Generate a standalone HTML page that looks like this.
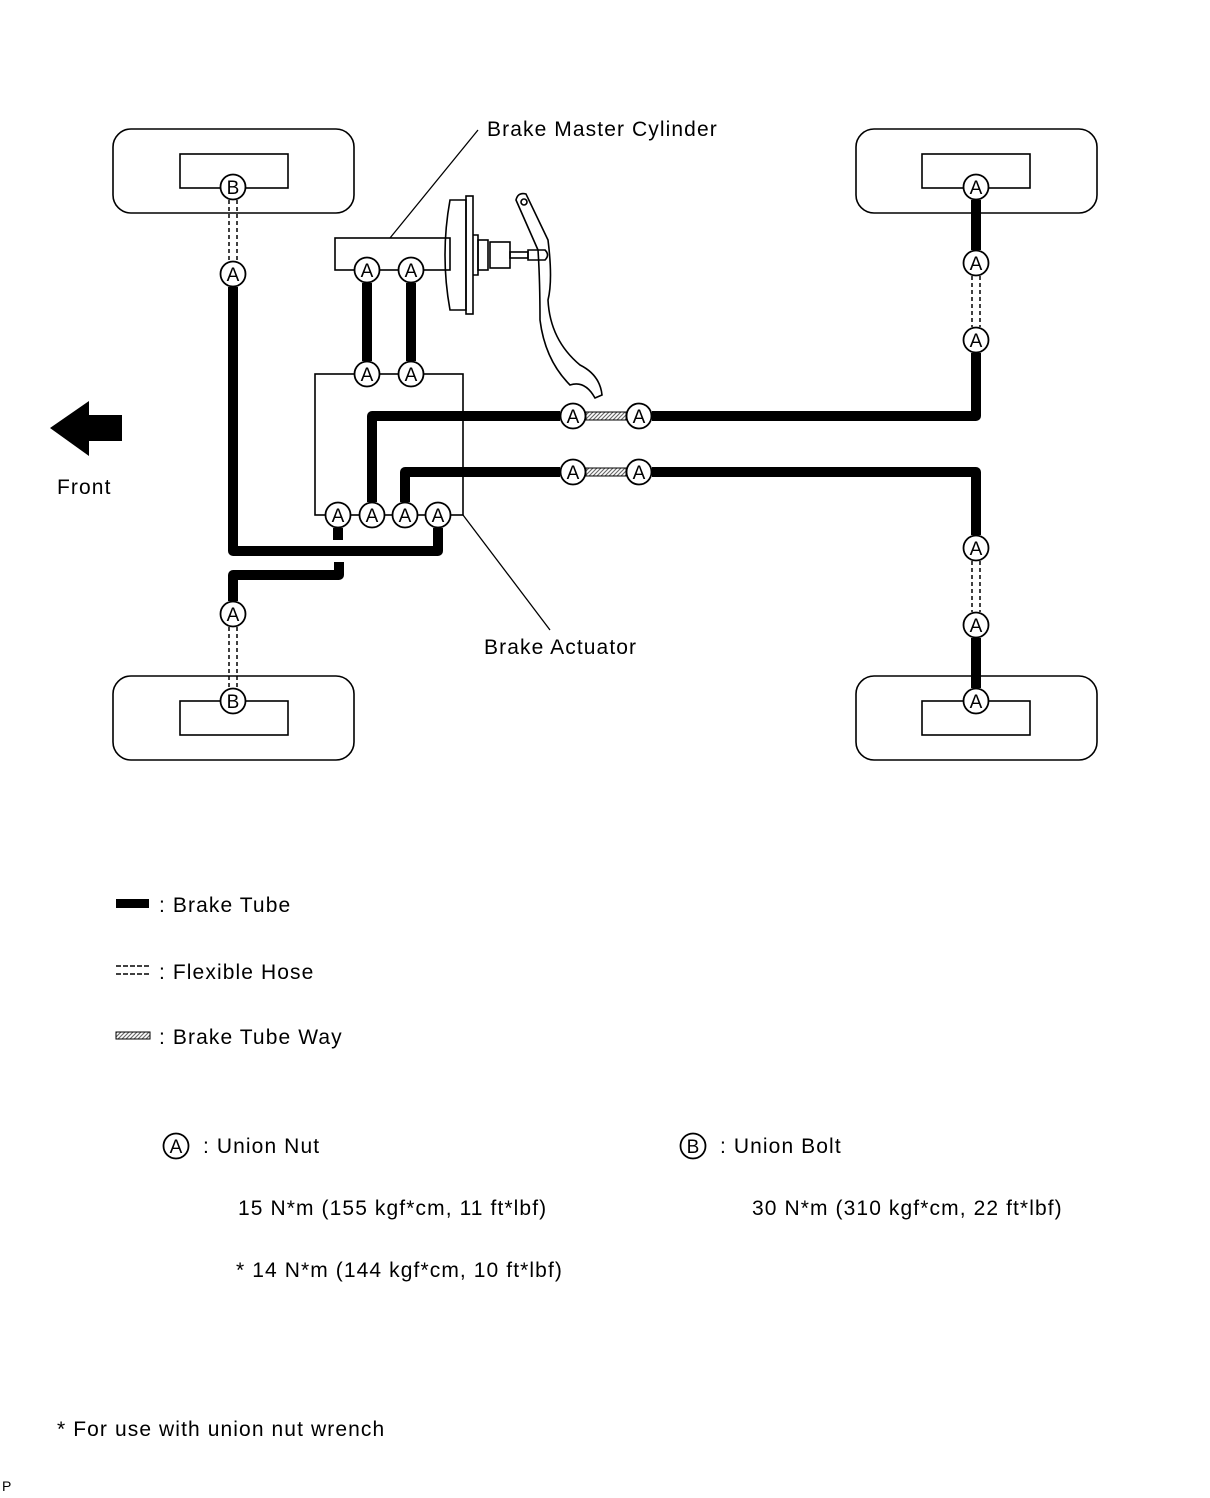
<!DOCTYPE html>
<html><head><meta charset="utf-8"><style>
html,body{margin:0;padding:0;background:#fff}
svg{display:block}
text{font-family:"Liberation Sans",Arial,sans-serif;fill:#000}
.c{fill:#fff;stroke:#000;stroke-width:1.8}
.ct{font-size:19px;text-anchor:middle}
.t{fill:none;stroke:#000;stroke-width:10;stroke-linejoin:round}
.h{stroke:#000;stroke-width:1.5;stroke-dasharray:4 3}
.o{fill:none;stroke:#000;stroke-width:1.6}
.lb{font-size:21px;letter-spacing:1.1px}
</style></head><body>
<svg width="1210" height="1498" viewBox="0 0 1210 1498" xmlns="http://www.w3.org/2000/svg">
<defs>
<pattern id="hp" width="4" height="8" patternUnits="userSpaceOnUse" patternTransform="skewX(-45)">
<rect width="4" height="8" fill="#fff"/><line x1="1" y1="0" x2="1" y2="8" stroke="#555" stroke-width="1.4"/>
</pattern>
</defs>
<!-- wheels -->
<rect x="113" y="129" width="241" height="84" rx="18" class="o"/>
<rect x="180" y="154" width="108" height="34" class="o"/>
<rect x="856" y="129" width="241" height="84" rx="18" class="o"/>
<rect x="922" y="154" width="108" height="34" class="o"/>
<rect x="113" y="676" width="241" height="84" rx="18" class="o"/>
<rect x="180" y="701" width="108" height="34" class="o"/>
<rect x="856" y="676" width="241" height="84" rx="18" class="o"/>
<rect x="922" y="701" width="108" height="34" class="o"/>

<!-- actuator box -->
<rect x="315" y="374" width="148" height="141" class="o"/>
<line x1="463" y1="515" x2="550" y2="630" stroke="#000" stroke-width="1.3"/>
<!-- master cylinder -->
<rect x="335" y="238" width="115" height="32" class="o"/>
<line x1="390" y1="238" x2="478" y2="130" stroke="#000" stroke-width="1.3"/>
<path d="M450,200 Q440,255 450,310 L466,310 L466,200 Z" class="o" fill="#fff"/>
<rect x="466" y="196" width="7" height="118" class="o" fill="#fff"/>
<path d="M473,235 L478,235 L478,275 L473,275" class="o"/>
<rect x="478" y="240" width="10" height="30" class="o" fill="#fff"/>
<rect x="490" y="242" width="20" height="26" class="o" fill="#fff"/>
<rect x="510" y="252" width="18" height="6" class="o" fill="#fff"/>
<path d="M528,250 L545,250 Q550,255 545,260 L528,260 Z" class="o" fill="#fff"/>
<!-- pedal -->
<path d="M516,200 Q518,192 526,194 L548,240 Q553,280 548,300 Q550,340 580,365 Q600,375 602,395 L595,398 Q585,380 570,385 Q545,360 540,320 Q540,280 538,250 Z" class="o" fill="#fff"/>
<circle cx="524" cy="202" r="3" class="o"/>

<!-- tubes -->
<path d="M233,287 V551 H438 V528" class="t"/>
<path d="M338,528 V540" class="t"/>
<path d="M339,562 V575 H233 V601" class="t"/>
<path d="M372,502 V416 H560" class="t"/>
<path d="M652,416 H976 V353" class="t"/>
<path d="M405,502 V472 H560" class="t"/>
<path d="M652,472 H976 V535" class="t"/>
<path d="M976,200 V250" class="t"/>
<path d="M976,638 V688" class="t"/>
<path d="M367,283 V361 M411,283 V361" class="t"/>
<!-- brake tube way -->
<rect x="586" y="412" width="40" height="8" fill="url(#hp)" stroke="#000" stroke-width="1"/>
<rect x="586" y="468" width="40" height="8" fill="url(#hp)" stroke="#000" stroke-width="1"/>
<!-- hoses -->
<line x1="229" y1="200" x2="229" y2="261" class="h"/><line x1="237" y1="200" x2="237" y2="261" class="h"/>
<line x1="229" y1="627" x2="229" y2="688" class="h"/><line x1="237" y1="627" x2="237" y2="688" class="h"/>
<line x1="972" y1="276" x2="972" y2="327" class="h"/><line x1="980" y1="276" x2="980" y2="327" class="h"/>
<line x1="972" y1="561" x2="972" y2="612" class="h"/><line x1="980" y1="561" x2="980" y2="612" class="h"/>

<!-- circles -->
<g>
<circle cx="233" cy="187" r="12.5" class="c"/><text x="233" y="194" class="ct">B</text>
<circle cx="233" cy="274" r="12.5" class="c"/><text x="233" y="281" class="ct">A</text>
<circle cx="367" cy="270" r="12.5" class="c"/><text x="367" y="277" class="ct">A</text>
<circle cx="411" cy="270" r="12.5" class="c"/><text x="411" y="277" class="ct">A</text>
<circle cx="367" cy="374" r="12.5" class="c"/><text x="367" y="381" class="ct">A</text>
<circle cx="411" cy="374" r="12.5" class="c"/><text x="411" y="381" class="ct">A</text>
<circle cx="338" cy="515" r="12.5" class="c"/><text x="338" y="522" class="ct">A</text>
<circle cx="372" cy="515" r="12.5" class="c"/><text x="372" y="522" class="ct">A</text>
<circle cx="405" cy="515" r="12.5" class="c"/><text x="405" y="522" class="ct">A</text>
<circle cx="438" cy="515" r="12.5" class="c"/><text x="438" y="522" class="ct">A</text>
<circle cx="573" cy="416" r="12.5" class="c"/><text x="573" y="423" class="ct">A</text>
<circle cx="639" cy="416" r="12.5" class="c"/><text x="639" y="423" class="ct">A</text>
<circle cx="573" cy="472" r="12.5" class="c"/><text x="573" y="479" class="ct">A</text>
<circle cx="639" cy="472" r="12.5" class="c"/><text x="639" y="479" class="ct">A</text>
<circle cx="976" cy="187" r="12.5" class="c"/><text x="976" y="194" class="ct">A</text>
<circle cx="976" cy="263" r="12.5" class="c"/><text x="976" y="270" class="ct">A</text>
<circle cx="976" cy="340" r="12.5" class="c"/><text x="976" y="347" class="ct">A</text>
<circle cx="976" cy="548" r="12.5" class="c"/><text x="976" y="555" class="ct">A</text>
<circle cx="976" cy="625" r="12.5" class="c"/><text x="976" y="632" class="ct">A</text>
<circle cx="976" cy="701" r="12.5" class="c"/><text x="976" y="708" class="ct">A</text>
<circle cx="233" cy="614" r="12.5" class="c"/><text x="233" y="621" class="ct">A</text>
<circle cx="233" cy="701" r="12.5" class="c"/><text x="233" y="708" class="ct">B</text>
</g>

<!-- front arrow -->
<polygon points="50,428 89,401 89,415 122,415 122,441 89,441 89,456" fill="#000"/>
<text x="57" y="494" class="lb">Front</text>

<text x="487" y="136" class="lb">Brake Master Cylinder</text>
<text x="484" y="654" class="lb">Brake Actuator</text>

<!-- legend -->
<rect x="116" y="899" width="33" height="9" fill="#000"/>
<text x="159" y="912" class="lb">: Brake Tube</text>
<line x1="116" y1="966" x2="150" y2="966" stroke="#000" stroke-width="1.5" stroke-dasharray="5 2"/>
<line x1="116" y1="974" x2="150" y2="974" stroke="#000" stroke-width="1.5" stroke-dasharray="5 2"/>
<text x="159" y="979" class="lb">: Flexible Hose</text>
<rect x="116" y="1032" width="34" height="7" fill="url(#hp)" stroke="#000" stroke-width="1"/>
<text x="159" y="1044" class="lb">: Brake Tube Way</text>

<circle cx="176" cy="1146" r="12.5" class="c"/><text x="176" y="1153" class="ct">A</text>
<text x="203" y="1153" class="lb">: Union Nut</text>
<circle cx="693" cy="1146" r="12.5" class="c"/><text x="693" y="1153" class="ct">B</text>
<text x="720" y="1153" class="lb">: Union Bolt</text>
<text x="238" y="1215" class="lb">15 N*m (155 kgf*cm, 11 ft*lbf)</text>
<text x="752" y="1215" class="lb">30 N*m (310 kgf*cm, 22 ft*lbf)</text>
<text x="236" y="1277" class="lb">* 14 N*m (144 kgf*cm, 10 ft*lbf)</text>
<text x="57" y="1436" class="lb">* For use with union nut wrench</text>
<text x="2" y="1491" style="font-size:14px">P</text>
</svg>
</body></html>
